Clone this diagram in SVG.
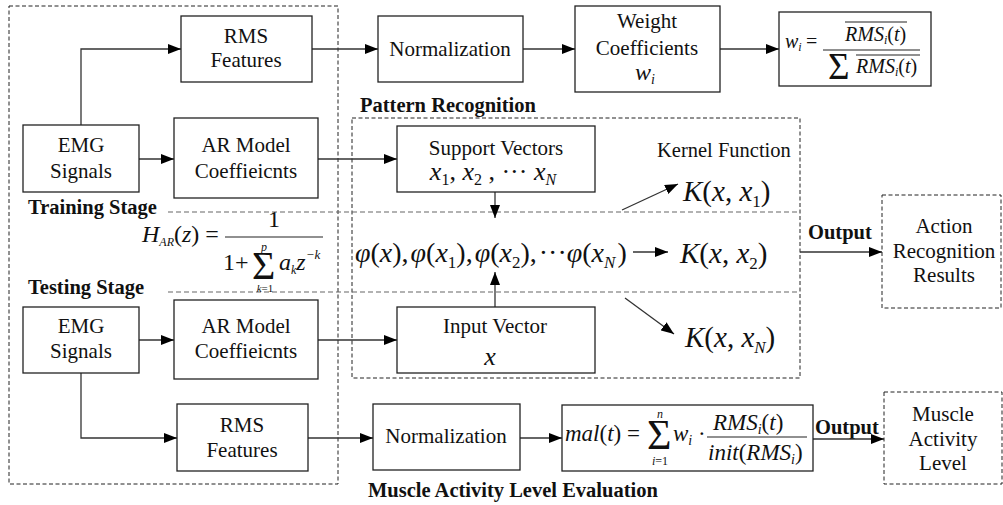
<svg xmlns="http://www.w3.org/2000/svg" width="1003" height="505" viewBox="0 0 1003 505">
<defs>
<marker id="arr" viewBox="0 0 13 10" refX="13" refY="5" markerWidth="13" markerHeight="10" markerUnits="userSpaceOnUse" orient="auto"><path d="M0,0 L13,5 L0,10 z" fill="#000"/></marker>
</defs>
<style>
.box{fill:#fff;stroke:#222;stroke-width:1.3}
.dbox{fill:none;stroke:#222;stroke-width:1;stroke-dasharray:4,2.5}
.sep{fill:none;stroke:#666;stroke-width:1.2;stroke-dasharray:5,3}
.t{font-family:"Liberation Serif","Times New Roman",serif;font-size:21px;fill:#111;text-anchor:middle}
.b{font-family:"Liberation Serif","Times New Roman",serif;font-size:20.5px;font-weight:bold;fill:#111}
.m{font-family:"Liberation Serif","Times New Roman",serif;fill:#111}
.i{font-style:italic}
.c{fill:none;stroke:#333;stroke-width:1.3}
.a{marker-end:url(#arr)}
.ln{stroke:#222;stroke-width:1.2}
</style>
<rect width="1003" height="505" fill="#fff"/>

<g id="regions">
<rect class="dbox" x="9" y="6" width="329" height="478"/>
<rect class="dbox" x="352" y="118" width="448" height="260"/>
<line class="sep" x1="168" y1="212" x2="800" y2="212"/>
<line class="sep" x1="168" y1="292" x2="800" y2="292"/>
<text class="b" x="360" y="112">Pattern Recognition</text>
<text class="b" x="28" y="214">Training Stage</text>
<text class="b" x="28" y="294">Testing Stage</text>
<text class="b" x="368" y="497">Muscle Activity Level Evaluation</text>
<text class="b" x="808" y="239">Output</text>
<text class="b" x="815" y="434">Output</text>
</g>

<g id="connectors">
<polyline class="c a" points="81,125 81,49 181,49"/>
<line class="c a" x1="139" y1="159" x2="174" y2="159"/>
<line class="c a" x1="312" y1="49" x2="378" y2="49"/>
<line class="c a" x1="523" y1="49" x2="575" y2="49"/>
<line class="c a" x1="720" y1="49" x2="779" y2="49"/>
<line class="c a" x1="318" y1="159" x2="397" y2="159"/>
<line class="c a" x1="495" y1="192" x2="495" y2="218"/>
<line class="c a" x1="495" y1="307" x2="495" y2="272"/>
<line class="c a" x1="633" y1="252" x2="668" y2="252"/>
<line class="c a" x1="622" y1="210" x2="678" y2="184"/>
<line class="c a" x1="625" y1="298" x2="674" y2="334"/>
<line class="c a" x1="800" y1="252" x2="882" y2="252"/>
<polyline class="c a" points="81,373 81,438 177,438"/>
<line class="c a" x1="139" y1="340" x2="174" y2="340"/>
<line class="c a" x1="318" y1="340" x2="397" y2="340"/>
<line class="c a" x1="308" y1="438" x2="373" y2="438"/>
<line class="c a" x1="520" y1="438" x2="562" y2="438"/>
<line class="c a" x1="813" y1="439" x2="884" y2="439"/>
</g>

<g id="rms-top">
<rect class="box" x="181" y="16" width="131" height="66"/>
<text class="t" x="246" y="43">RMS</text>
<text class="t" x="246" y="67">Features</text>
</g>
<g id="emg-top">
<rect class="box" x="23" y="125" width="116" height="67"/>
<text class="t" x="81" y="152">EMG</text>
<text class="t" x="81" y="178">Signals</text>
</g>
<g id="ar-top">
<rect class="box" x="174" y="118" width="144" height="80"/>
<text class="t" x="246" y="152">AR Model</text>
<text class="t" x="246" y="178">Coeffieicnts</text>
</g>
<g id="norm-top">
<rect class="box" x="378" y="16" width="145" height="66"/>
<text class="t" x="450" y="56">Normalization</text>
</g>
<g id="weight">
<rect class="box" x="575" y="6" width="145" height="86"/>
<text class="t" x="647" y="28">Weight</text>
<text class="t" x="647" y="55">Coefficients</text>
<text class="m i" x="645" y="80" font-size="24" text-anchor="middle">w<tspan font-size="14" dy="4">i</tspan></text>
</g>
<g id="weight-formula">
<rect class="box" x="779" y="12" width="152" height="74"/>
<text class="m i" x="785" y="48" font-size="20">w<tspan font-size="12" dy="3">i</tspan></text>
<text class="m" x="806" y="48" font-size="20">=</text>
<line class="ln" x1="823" y1="50" x2="920" y2="50"/>
<line class="ln" x1="845" y1="22" x2="907" y2="22"/>
<text class="m i" x="845" y="41" font-size="20">RMS<tspan font-size="12" dy="3">i</tspan><tspan dy="-3" font-style="normal">(</tspan>t<tspan font-style="normal">)</tspan></text>
<text class="m" x="828" y="79" font-size="37">Σ</text>
<line class="ln" x1="856" y1="55" x2="920" y2="55"/>
<text class="m i" x="856" y="73" font-size="20">RMS<tspan font-size="12" dy="3">i</tspan><tspan dy="-3" font-style="normal">(</tspan>t<tspan font-style="normal">)</tspan></text>
</g>

<g id="support-vectors">
<rect class="box" x="397" y="126" width="198" height="66"/>
<text class="t" x="496" y="155">Support Vectors</text>
<text class="m" x="493" y="180" font-size="26" text-anchor="middle"><tspan class="i">x</tspan><tspan font-size="16" dy="5">1</tspan><tspan dy="-5">, </tspan><tspan class="i">x</tspan><tspan font-size="16" dy="5">2</tspan><tspan dy="-5"> , ··· </tspan><tspan class="i">x</tspan><tspan class="i" font-size="16" dy="5">N</tspan></text>
</g>
<g id="feature-map">
<text class="m" x="355" y="262" font-size="28"><tspan class="i">φ</tspan>(<tspan class="i">x</tspan>),<tspan class="i" dx="2">φ</tspan>(<tspan class="i">x</tspan><tspan font-size="17" dy="6">1</tspan><tspan dy="-6">),</tspan><tspan class="i" dx="2">φ</tspan>(<tspan class="i">x</tspan><tspan font-size="17" dy="6">2</tspan><tspan dy="-6">),</tspan><tspan dx="2">···</tspan><tspan class="i">φ</tspan>(<tspan class="i">x</tspan><tspan class="i" font-size="17" dy="6">N</tspan><tspan dy="-6" dx="2">)</tspan></text>
</g>
<g id="input-vector">
<rect class="box" x="397" y="307" width="198" height="66"/>
<text class="t" x="495" y="333">Input Vector</text>
<text class="m i" x="490" y="365" font-size="26" text-anchor="middle">x</text>
</g>
<g id="kernel">
<text class="m" x="657" y="157" font-size="20.5">Kernel Function</text>
<text class="m" x="683" y="201" font-size="29"><tspan class="i">K</tspan>(<tspan class="i">x</tspan>, <tspan class="i">x</tspan><tspan font-size="17" dy="6">1</tspan><tspan dy="-6">)</tspan></text>
<text class="m" x="680" y="263" font-size="29"><tspan class="i">K</tspan>(<tspan class="i">x</tspan>, <tspan class="i">x</tspan><tspan font-size="17" dy="6">2</tspan><tspan dy="-6">)</tspan></text>
<text class="m" x="685" y="347" font-size="29"><tspan class="i">K</tspan>(<tspan class="i">x</tspan>, <tspan class="i">x</tspan><tspan class="i" font-size="17" dy="6">N</tspan><tspan dy="-6">)</tspan></text>
</g>
<g id="har-formula">
<text class="m" x="142" y="242" font-size="24"><tspan class="i">H</tspan><tspan class="i" font-size="12" dy="4">AR</tspan><tspan dy="-4">(</tspan><tspan class="i">z</tspan>) =</text>
<line class="ln" x1="225" y1="237" x2="323" y2="237"/>
<text class="m" x="274" y="227" font-size="24" text-anchor="middle">1</text>
<text class="m" x="223" y="270" font-size="24">1+</text>
<text class="m" x="252" y="279" font-size="40">Σ</text>
<text class="m i" x="264" y="251" font-size="12" text-anchor="middle">p</text>
<text class="m i" x="265" y="292" font-size="11" text-anchor="middle">k<tspan font-style="normal">=1</tspan></text>
<text class="m i" x="279" y="270" font-size="24">a<tspan font-size="12" dy="4">k</tspan><tspan dy="-4">z</tspan><tspan font-size="13" dy="-11">−k</tspan></text>
</g>

<g id="action-results">
<rect class="dbox" x="882" y="195" width="119" height="113"/>
<text class="t" x="944" y="233">Action</text>
<text class="t" x="944" y="258">Recognition</text>
<text class="t" x="944" y="282">Results</text>
</g>

<g id="emg-bottom">
<rect class="box" x="23" y="307" width="116" height="66"/>
<text class="t" x="81" y="333">EMG</text>
<text class="t" x="81" y="358">Signals</text>
</g>
<g id="ar-bottom">
<rect class="box" x="174" y="300" width="144" height="79"/>
<text class="t" x="246" y="333">AR Model</text>
<text class="t" x="246" y="358">Coeffieicnts</text>
</g>
<g id="rms-bottom">
<rect class="box" x="177" y="404" width="131" height="67"/>
<text class="t" x="242" y="432">RMS</text>
<text class="t" x="242" y="457">Features</text>
</g>
<g id="norm-bottom">
<rect class="box" x="373" y="404" width="147" height="66"/>
<text class="t" x="446" y="443">Normalization</text>
</g>
<g id="mal-formula">
<rect class="box" x="562" y="405" width="251" height="66"/>
<text class="m" x="565" y="441" font-size="23"><tspan class="i">mal</tspan>(<tspan class="i">t</tspan>) =</text>
<text class="m" x="647" y="449" font-size="42">Σ</text>
<text class="m i" x="660" y="418" font-size="12" text-anchor="middle">n</text>
<text class="m i" x="660" y="465" font-size="12" text-anchor="middle">i<tspan font-style="normal">=1</tspan></text>
<text class="m" x="673" y="441" font-size="23"><tspan class="i">w</tspan><tspan class="i" font-size="14" dy="4">i</tspan><tspan dy="-4"> ·</tspan></text>
<line class="ln" x1="707" y1="437" x2="807" y2="437"/>
<text class="m" x="713" y="430" font-size="23"><tspan class="i">RMS</tspan><tspan class="i" font-size="14" dy="4">i</tspan><tspan dy="-4">(</tspan><tspan class="i">t</tspan>)</text>
<text class="m" x="708" y="460" font-size="23"><tspan class="i">init</tspan>(<tspan class="i">RMS</tspan><tspan class="i" font-size="14" dy="4">i</tspan><tspan dy="-4">)</tspan></text>
</g>
<g id="muscle-level">
<rect class="dbox" x="884" y="392" width="118" height="92"/>
<text class="t" x="943" y="421">Muscle</text>
<text class="t" x="943" y="446">Activity</text>
<text class="t" x="943" y="470">Level</text>
</g>
</svg>
